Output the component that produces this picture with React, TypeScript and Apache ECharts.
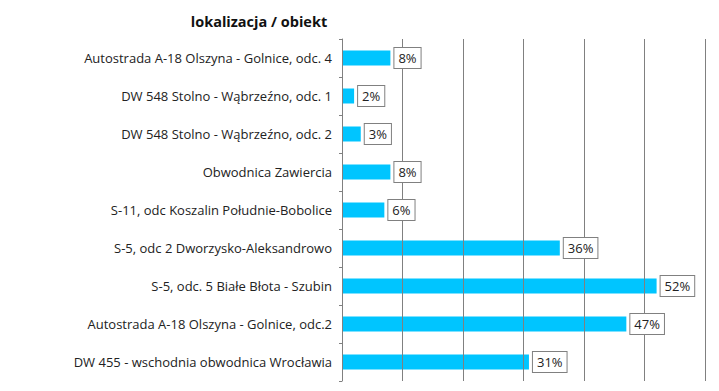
import React, { useEffect, useRef } from "react";
import * as echarts from "echarts";

const categories = [
  "Autostrada A-18 Olszyna - Golnice, odc. 4",
  "DW 548 Stolno - Wąbrzeźno, odc. 1",
  "DW 548 Stolno - Wąbrzeźno, odc. 2",
  "Obwodnica Zawiercia",
  "S-11, odc Koszalin Południe-Bobolice",
  "S-5, odc 2 Dworzysko-Aleksandrowo",
  "S-5, odc. 5 Białe Błota - Szubin",
  "Autostrada A-18 Olszyna - Golnice, odc.2",
  "DW 455 - wschodnia obwodnica Wrocławia",
];
const values = [8.0, 2.0, 3.1, 8.0, 7.0, 36.0, 52.0, 47.0, 30.9];
const valueLabels = ["8%", "2%", "3%", "8%", "6%", "36%", "52%", "47%", "31%"];
const titleText = "lokalizacja / obiekt";

export default function App() {
  const ref = useRef<HTMLDivElement>(null);
  useEffect(() => {
    const chart = echarts.init(ref.current!, null, { renderer: "svg" });
    const font = "'Open Sans', sans-serif";
    chart.setOption({
      animation: false,
      title: {
        text: titleText,
        left: 246,
        top: 1,
        textAlign: "center",
        textStyle: { fontFamily: font, fontWeight: "bold", fontSize: 14.5, color: "#111" },
      },
      grid: { left: 334, right: 6, top: 31, bottom: 2, containLabel: false },
      xAxis: {
        type: "value",
        min: 0,
        max: 60,
        interval: 10,
        z: 3,
        axisLabel: { show: false },
        axisLine: { show: false },
        axisTick: { show: false },
        splitLine: { show: true, lineStyle: { color: "#808080", width: 1 } },
      },
      yAxis: {
        type: "category",
        data: categories,
        inverse: true,
        z: 3,
        axisLine: { show: true, lineStyle: { color: "#808080" } },
        axisTick: { show: true, length: 3, lineStyle: { color: "#808080" } },
        axisLabel: { fontFamily: font, fontSize: 13, color: "#222", margin: 10 },
      },
      series: [
        {
          type: "bar",
          data: values,
          barWidth: 15,
          z: 2,
          itemStyle: { color: "#00c5ff" },
        },
        {
          type: "bar",
          data: values,
          barWidth: 15,
          barGap: "-100%",
          z: 4,
          silent: true,
          itemStyle: { color: "rgba(0,0,0,0)" },
          label: {
            show: true,
            position: "right",
            distance: 4,
            formatter: (p: any) => valueLabels[p.dataIndex],
            fontFamily: font,
            fontSize: 13,
            lineHeight: 13,
            color: "#222",
            backgroundColor: "#fff",
            borderColor: "#808080",
            borderWidth: 1,
            padding: [4, 4, 3, 4],
          },
        },
      ],
    });
    return () => chart.dispose();
  }, []);
  return <div ref={ref} style={{ width: 703, height: 375 }} />;
}
